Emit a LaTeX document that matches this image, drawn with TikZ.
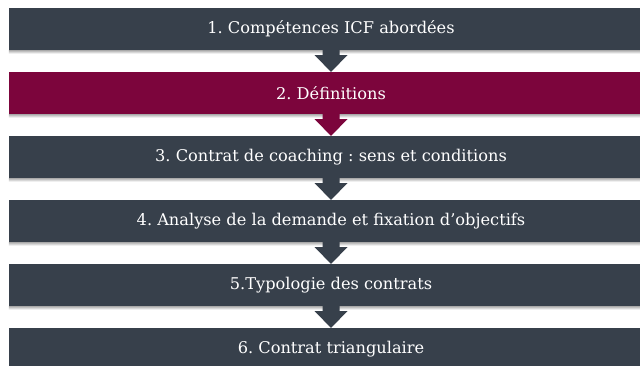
\documentclass[tikz,border=0pt]{standalone}
\usepackage{fontspec}
\setmainfont{DejaVu Serif}
\usetikzlibrary{calc}
\definecolor{slate}{RGB}{55,64,75}
\definecolor{wine}{RGB}{124,5,60}
\tikzset{
  bar/.style={minimum width=644pt, minimum height=42pt, inner sep=0pt, text=white,
    font=\fontsize{16.2}{19}\selectfont\frenchspacing},
}
\newcommand\flowarrow[3]{%
  \fill[#3] ($(#1.south)+(-8.5,-2)$) -- ($(#1.south)+(8.5,-2)$) -- ($(#1.south)+(8.5,5)$)
    -- ($(#1.south)+(16.5,5)$) -- (#2.north) -- ($(#1.south)+(-16.5,5)$)
    -- ($(#1.south)+(-8.5,5)$) -- cycle;}
\newcommand\barshadow[1]{%
  \shade[top color=black!32, bottom color=white] ($(#1.south west)+(0,0)$) rectangle ($(#1.south east)+(0,3.5)$);}
\begin{document}
\begin{tikzpicture}[x=1pt,y=-1pt]
\useasboundingbox (0,0) rectangle (640,366);
\clip (0,0) rectangle (640,366);
\fill[white] (0,0) rectangle (640,366);
\node[bar, fill=slate] (b1) at (331,29) {1. Compétences ICF abordées};
\node[bar, fill=wine] (b2) at (331,93) {2. Définitions};
\node[bar, fill=slate] (b3) at (331,157) {3. Contrat de coaching : sens et conditions};
\node[bar, fill=slate] (b4) at (331,221) {4. Analyse de la demande et fixation d’objectifs};
\node[bar, fill=slate] (b5) at (331,285) {5.Typologie des contrats};
\node[bar, fill=slate] (b6) at (331,349) {6. Contrat triangulaire};
\barshadow{b1}\barshadow{b2}\barshadow{b3}\barshadow{b4}\barshadow{b5}
\flowarrow{b1}{b2}{slate}
\flowarrow{b2}{b3}{wine}
\flowarrow{b3}{b4}{slate}
\flowarrow{b4}{b5}{slate}
\flowarrow{b5}{b6}{slate}
\end{tikzpicture}
\end{document}
